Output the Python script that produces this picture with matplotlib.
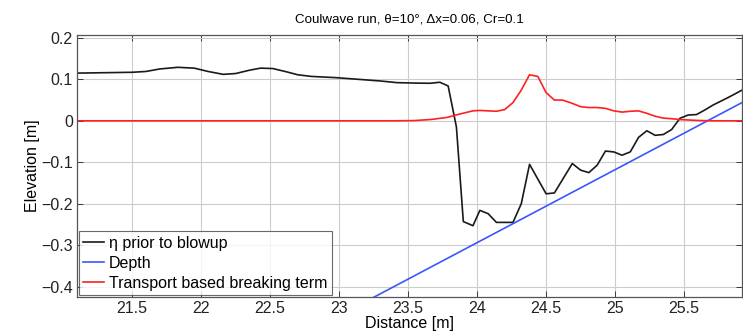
import matplotlib
matplotlib.use("Agg")
import matplotlib.pyplot as plt
import numpy as np

plt.rcParams['font.family'] = ['Liberation Sans', 'DejaVu Sans']
plt.rcParams['axes.unicode_minus'] = True

# Free surface just before the run blew up
eta_x = [21.10, 21.30, 21.50, 21.60, 21.70, 21.83, 21.95, 22.05, 22.16, 22.25,
         22.35, 22.43, 22.52, 22.62, 22.70, 22.80, 22.98, 23.10, 23.20, 23.30,
         23.42, 23.55, 23.66, 23.73, 23.79, 23.85, 23.90, 23.97,
         24.02, 24.08, 24.14, 24.26, 24.32, 24.38, 24.50, 24.56, 24.69, 24.75,
         24.81, 24.87, 24.93, 24.99, 25.05, 25.11, 25.17, 25.23, 25.29, 25.35,
         25.41, 25.47, 25.53, 25.59, 25.65, 25.71, 25.77, 25.83, 25.92]
eta_y = [0.115, 0.116, 0.117, 0.119, 0.125, 0.129, 0.127, 0.119, 0.112, 0.114,
         0.122, 0.127, 0.126, 0.118, 0.111, 0.107, 0.104, 0.101, 0.0985, 0.096,
         0.092, 0.091, 0.0905, 0.093, 0.084, -0.015, -0.243, -0.253,
         -0.216, -0.224, -0.245, -0.245, -0.200, -0.105, -0.176, -0.174, -0.103, -0.119,
         -0.125, -0.107, -0.073, -0.075, -0.083, -0.075, -0.040, -0.024, -0.035, -0.033,
         -0.021, 0.006, 0.014, 0.015, 0.026, 0.038, 0.048, 0.058, 0.074]

# Sloping bottom (10 degree beach)
depth_x = [21.10, 25.92]
depth_y = [-0.804, 0.044]

# Breaking term
brk_x = [21.10, 23.40, 23.54, 23.66, 23.78, 23.87, 23.97, 24.02, 24.14, 24.20,
         24.26, 24.32, 24.38, 24.44, 24.50, 24.56, 24.62, 24.69, 24.75, 24.81,
         24.87, 24.93, 24.99, 25.05, 25.11, 25.17, 25.23, 25.29, 25.35, 25.41,
         25.47, 25.59, 25.70, 25.92]
brk_y = [0.0, 0.0, 0.0005, 0.003, 0.008, 0.016, 0.024, 0.025, 0.023, 0.027,
         0.044, 0.074, 0.111, 0.107, 0.068, 0.050, 0.050, 0.042, 0.034, 0.032,
         0.032, 0.030, 0.024, 0.021, 0.023, 0.024, 0.018, 0.011, 0.0065, 0.005,
         0.003, 0.001, 0.0, 0.0]

x_ticks = [21.5, 22, 22.5, 23, 23.5, 24, 24.5, 25, 25.5]
y_ticks = [-0.4, -0.3, -0.2, -0.1, 0, 0.1, 0.2]

fig = plt.figure(figsize=(7.43, 3.33), dpi=100)
ax = fig.add_axes([0.1036, 0.108, 0.8951, 0.787])

ax.plot(eta_x, eta_y, color='#1a1a1a', lw=1.2, label='η prior to blowup')
ax.plot(depth_x, depth_y, color='#3a56ff', lw=1.2, label='Depth')
ax.plot(brk_x, brk_y, color='#ff2020', lw=1.2, label='Transport based breaking term')

ax.set_xlim(21.1, 25.92)
ax.set_ylim(-0.425, 0.207)
ax.set_xticks(x_ticks)
ax.set_xticklabels(['21.5', '22', '22.5', '23', '23.5', '24', '24.5', '25', '25.5'])
ax.set_yticks(y_ticks)
ax.set_yticklabels(['\u22120.4', '\u22120.3', '\u22120.2', '\u22120.1', '0', '0.1', '0.2'])
ax.tick_params(direction='in', length=4, width=0.6, labelsize=11.5, colors='#222222',
               top=True, right=True, pad=3)
ax.grid(True, color='#cccccc', lw=0.8)
ax.set_axisbelow(True)
for s in ax.spines.values():
    s.set_color('#555555')
    s.set_linewidth(0.9)

ax.set_xlabel('Distance [m]', fontsize=11.5, labelpad=0)
ax.set_ylabel('Elevation [m]', fontsize=11.5, labelpad=1)
ax.set_title('Coulwave run, θ=10°, Δx=0.06, Cr=0.1', fontsize=9.6, pad=9)

leg = ax.legend(loc='lower left', fontsize=11.5, frameon=True, fancybox=False,
                borderaxespad=0.1, handlelength=1.3, handletextpad=0.3,
                labelspacing=0.3, borderpad=0.3)
leg.get_frame().set_edgecolor('#444444')
leg.get_frame().set_linewidth(0.8)

fig.savefig('out.png', dpi=100)
